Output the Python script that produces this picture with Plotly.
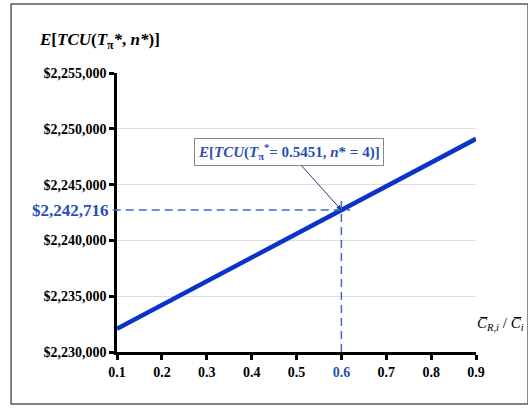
import plotly.graph_objects as go

# Ratio of repair cost to unit cost, and expected total cost per unit time
ratio = [0.1, 0.2, 0.3, 0.4, 0.5, 0.6, 0.7, 0.8, 0.9]
expected_cost = [2232080, 2234210, 2236340, 2238460, 2240590, 2242716, 2244840, 2246970, 2249100]

y_ticks = [2230000, 2235000, 2240000, 2245000, 2250000, 2255000]
y_tick_text = ["$2,230,000", "$2,235,000", "$2,240,000", "$2,245,000", "$2,250,000", "$2,255,000"]
x_ticks = [0.1, 0.2, 0.3, 0.4, 0.5, 0.6, 0.7, 0.8, 0.9]

opt_ratio = 0.6
opt_cost = 2242716
opt_label = "$2,242,716"

SERIF = "Times New Roman, Liberation Serif, DejaVu Serif, serif"
LINE_BLUE = "#0B33C9"
DASH_BLUE = "#4169C6"
TEXT_BLUE = "#2A4FB0"

x_tick_text = [
    f'<b><span style="color:{TEXT_BLUE}">{v:.1f}</span></b>' if abs(v - opt_ratio) < 1e-9
    else f"<b>{v:.1f}</b>"
    for v in x_ticks
]
y_tick_bold = [f"<b>{t}</b>" for t in y_tick_text]

fig = go.Figure()
fig.add_trace(go.Scatter(
    x=ratio, y=expected_cost, mode="lines",
    line=dict(color=LINE_BLUE, width=4.5),
    hoverinfo="skip", cliponaxis=False,
))

x_lo, x_hi = x_ticks[0], x_ticks[-1]
y_lo, y_hi = y_ticks[0], y_ticks[-1]
opt_px = (opt_ratio - x_lo) / (x_hi - x_lo)

shapes = [
    # outer frame
    dict(type="rect", xref="paper", yref="paper",
         x0=-0.295, x1=1.145, y0=-0.186, y1=1.247,
         line=dict(color="#5a5a5a", width=1.5), layer="below"),
    # horizontal guide at the optimum cost
    dict(type="line", xref="paper", yref="y",
         x0=-0.012, x1=opt_px + 0.025, y0=opt_cost, y1=opt_cost,
         line=dict(color=DASH_BLUE, width=1.5, dash="8px,5px")),
    # vertical guide at the optimum ratio
    dict(type="line", xref="x", yref="y",
         x0=opt_ratio, x1=opt_ratio, y0=y_lo, y1=opt_cost + 900,
         line=dict(color=DASH_BLUE, width=1.5, dash="8px,5px")),
]

annotations = [
    dict(text="<b><i>E</i>[<i>TCU</i>(<i>T</i><sub>π</sub><i>*</i>, <i>n*</i>)]</b>",
         xref="paper", yref="paper", x=-0.222, y=1.115, xanchor="left", yanchor="middle",
         showarrow=False, font=dict(family=SERIF, size=17, color="black")),
    dict(text=f"<b>{opt_label}</b>", xref="paper", yref="y",
         x=-0.018, y=opt_cost, xanchor="right", yanchor="middle",
         showarrow=False, font=dict(family=SERIF, size=17, color=TEXT_BLUE)),
    dict(text="<b><i>E</i>[<i>TCU</i>(<i>T</i><sub>π</sub><sup>*</sup>= 0.5451, <i>n</i>* = 4)]</b>",
         x=opt_ratio, y=opt_cost, xref="x", yref="y",
         ax=-52, ay=-58, showarrow=True, arrowhead=2, arrowsize=1, arrowwidth=1,
         arrowcolor="#1F3A8A", standoff=0,
         bordercolor="#8a8a8a", borderwidth=1, borderpad=3, bgcolor="white",
         font=dict(family=SERIF, size=15, color=TEXT_BLUE)),
    dict(text="<i>C\u0305</i><sub><i>R,i</i></sub> / <i>C\u0305</i><sub><i>i</i></sub>",
         xref="paper", yref="paper", x=0.998, y=0.1, xanchor="left", yanchor="middle",
         showarrow=False, font=dict(family=SERIF, size=15, color="black")),
]

fig.update_layout(
    width=528, height=408,
    margin=dict(l=117, r=52, t=73, b=56),
    paper_bgcolor="white", plot_bgcolor="white",
    showlegend=False,
    shapes=shapes, annotations=annotations,
    xaxis=dict(
        range=[x_lo, x_hi], tickvals=x_ticks, ticktext=x_tick_text,
        showgrid=False, zeroline=False,
        showline=True, linecolor="black", linewidth=2.5,
        ticks="outside", ticklen=5, tickwidth=2.5, tickcolor="black",
        ticklabelstandoff=0,
        tickfont=dict(family=SERIF, size=14, color="black"),
    ),
    yaxis=dict(
        range=[y_lo, y_hi], tickvals=y_ticks, ticktext=y_tick_bold,
        showgrid=True, gridcolor="#dcdcdc", gridwidth=1, zeroline=False,
        showline=True, linecolor="black", linewidth=2.5,
        ticks="outside", ticklen=5, tickwidth=2.5, tickcolor="black",
        tickfont=dict(family=SERIF, size=14, color="black"),
    ),
)

fig.write_html("out.html")
